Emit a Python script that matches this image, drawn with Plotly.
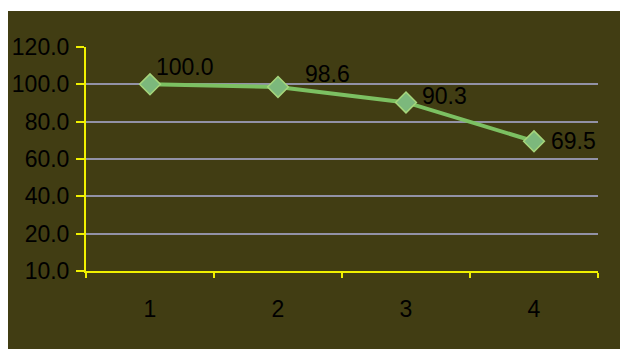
import plotly.graph_objects as go

# Data
categories = ["1", "2", "3", "4"]
values = [100.0, 98.6, 90.3, 69.5]
y_tickvals = [0, 20, 40, 60, 80, 100, 120]
y_ticktext = ["10.0", "20.0", "40.0", "60.0", "80.0", "100.0", "120.0"]

# Label offsets (pixels) for each data label
label_dx = [4, 25, 14, 15]
label_dy = [17, 13, 6, 0]

BG = "#413d13"
YELLOW = "#f0f000"
GRID = "#9292a6"
FONT = "Liberation Sans, Arial, sans-serif"

W, H = 620, 349
L, R, T, B = 86, 22, 47, 78
pw, ph = W - L - R, H - T - B

fig = go.Figure()
fig.add_trace(go.Scatter(
    x=categories, y=values, mode="lines+markers",
    line=dict(color="#7cc062", width=4),
    marker=dict(symbol="diamond", size=16, color="#7cb87c",
                line=dict(color="#a6d67c", width=1.5)),
    hoverinfo="skip", showlegend=False,
))

# category positions are 0-based indices on the category axis
for i, (v, dx, dy) in enumerate(zip(values, label_dx, label_dy)):
    fig.add_annotation(x=i, y=v, text=f"{v:.1f}", showarrow=False,
                       xanchor="left", yanchor="middle", xshift=dx, yshift=dy,
                       font=dict(family=FONT, size=23, color="#000000"))

# olive chart area with white strip at top and left
fig.add_shape(type="rect", xref="paper", yref="paper",
              x0=(8 - L) / pw, x1=(W + 5 - L) / pw,
              y0=(H - B - (H + 5)) / ph, y1=(H - B - 11) / ph,
              fillcolor=BG, line=dict(width=0), layer="below")

fig.update_layout(
    width=W, height=H,
    margin=dict(l=L, r=R, t=T, b=B),
    paper_bgcolor="#ffffff", plot_bgcolor=BG,
    font=dict(family=FONT, size=23, color="#000000"),
    xaxis=dict(type="category", tickson="boundaries", ticks="outside",
               ticklen=5, tickcolor=YELLOW, tickwidth=2,
               showline=True, linecolor=YELLOW, linewidth=2,
               showgrid=False, range=[-0.5, 3.5], fixedrange=True,
               ticklabelstandoff=16),
    yaxis=dict(range=[0, 120], tickvals=y_tickvals, ticktext=y_ticktext,
               ticks="outside", ticklen=8, tickcolor=YELLOW, tickwidth=2,
               showline=True, linecolor=YELLOW, linewidth=2,
               showgrid=True, gridcolor=GRID, gridwidth=2,
               zeroline=False, fixedrange=True, ticklabelstandoff=2),
)

fig.write_html("out.html")
